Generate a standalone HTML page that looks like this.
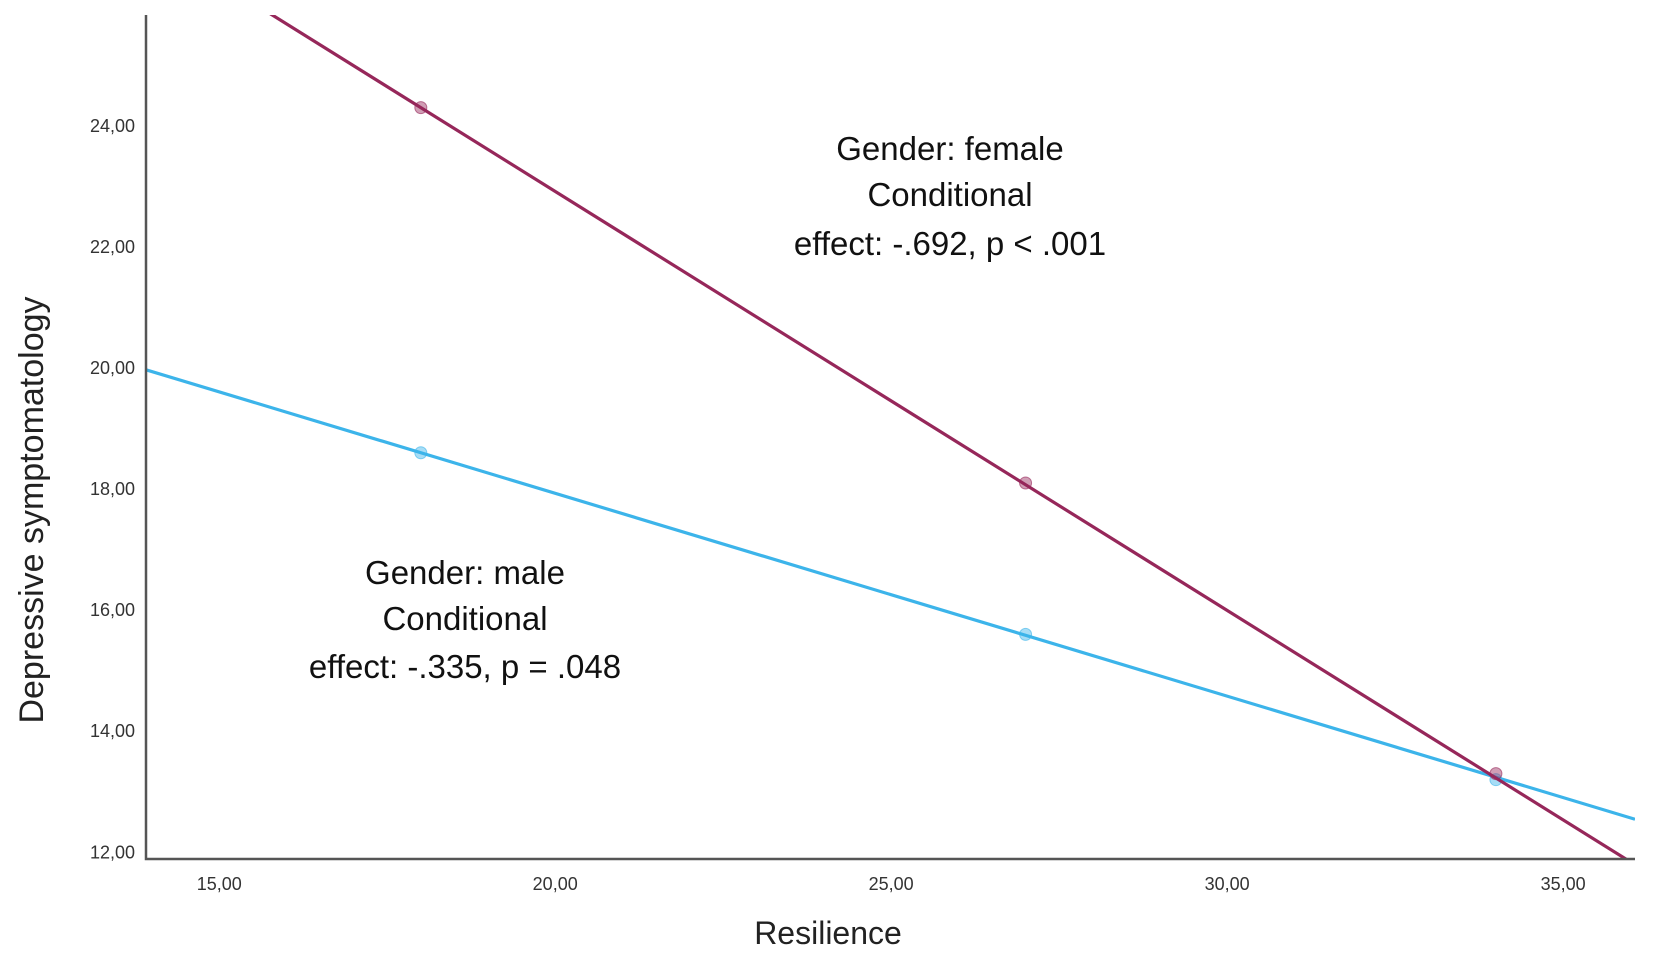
<!DOCTYPE html>
<html><head><meta charset="utf-8"><style>
html,body{margin:0;padding:0;background:#fff;width:1654px;height:958px;overflow:hidden}
svg text{font-family:"Liberation Sans",sans-serif}
</style></head><body>
<svg id="chart" width="1654" height="958" xmlns="http://www.w3.org/2000/svg"></svg>
<script>
const xTicks=[15,20,25,30,35];
const yTicks=[12,14,16,18,20,22,24];
const tickLabelsX=["15,00","20,00","25,00","30,00","35,00"];
const tickLabelsY=["12,00","14,00","16,00","18,00","20,00","22,00","24,00"];
const pointX=[18,27,34];
const femaleY=[24.3,18.1,13.3];
const maleY=[18.6,15.6,13.2];
const femaleSlope=-0.692;
const maleSlope=-0.335;

const L=146,R=1635,T=15,B=859;
const xMin=13.91,xMax=36.07,yMin=11.89,yMax=25.83;
const sx=v=>L+(v-xMin)/(xMax-xMin)*(R-L);
const sy=v=>B-(v-yMin)/(yMax-yMin)*(B-T);
const svg=document.getElementById('chart');
const NS="http://www.w3.org/2000/svg";
function mk(t,a,p){const e=document.createElementNS(NS,t);for(const k in a)e.setAttribute(k,a[k]);(p||svg).appendChild(e);return e;}

const defs=mk('defs',{});
const cp=mk('clipPath',{id:'plotclip'},defs);
mk('rect',{x:L,y:T,width:R-L,height:B-T},cp);

yTicks.forEach((v,i)=>{const t=mk('text',{x:135,y:sy(v)+6,'text-anchor':'end','font-size':18,fill:'#333'});


t.textContent=tickLabelsY[i];});
xTicks.forEach((v,i)=>{const t=mk('text',{x:sx(v),y:890,'text-anchor':'middle','font-size':18,fill:'#333'});


t.textContent=tickLabelsX[i];});

function series(ys,slope,color,name){
  const g=mk('g',{'clip-path':'url(#plotclip)'});
  
  
  const x0=pointX[0],y0=ys[0];
  const f=x=>y0+slope*(x-x0);
  const ln=mk('line',{x1:sx(xMin),y1:sy(f(xMin)),x2:sx(xMax),y2:sy(f(xMax)),stroke:color,'stroke-width':3.2},g);
  
  
  pointX.forEach((x,i)=>{const c=mk('circle',{cx:sx(x),cy:sy(ys[i]),r:6,fill:color,'fill-opacity':0.45,stroke:color,'stroke-opacity':0.6},g);
  
  });
}
series(maleY,maleSlope,'#3cb4ea','male');
series(femaleY,femaleSlope,'#96275a','female');

const ax=mk('path',{d:`M${L},${T} L${L},${B} L${R},${B}`,fill:'none',stroke:'#555','stroke-width':2.5});



function label(lines,cx,ys,name){lines.forEach((s,i)=>{const t=mk('text',{x:cx,y:ys[i],'text-anchor':'middle','font-size':33,fill:'#111'});


t.textContent=s;});}
label(["Gender: female","Conditional","effect: -.692, p < .001"],950,[160,206,255],'female-annotation');
label(["Gender: male","Conditional","effect: -.335, p = .048"],465,[584,630,678],'male-annotation');

const xt=mk('text',{x:828,y:944,'text-anchor':'middle','font-size':32,fill:'#222'});


xt.textContent='Resilience';
const yt=mk('text',{x:0,y:0,'text-anchor':'middle','font-size':34,fill:'#222',transform:'translate(43,510) rotate(-90)'});


yt.textContent='Depressive symptomatology';
</script>
</body></html>
